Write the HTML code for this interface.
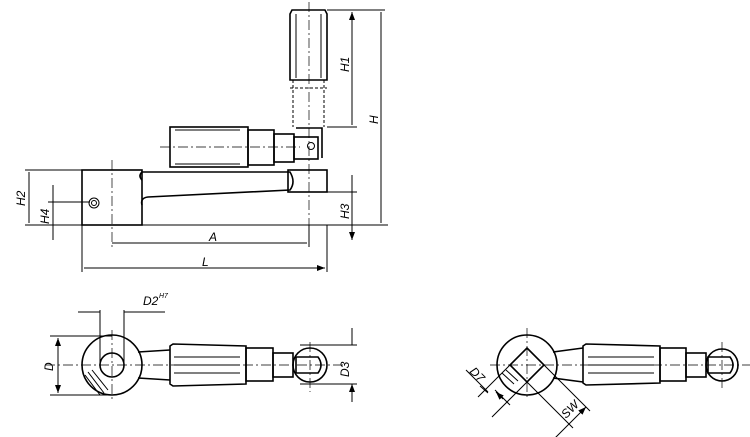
<!DOCTYPE html>
<html><head><style>html,body{margin:0;padding:0;background:#fff}svg{display:block}</style></head><body>
<svg width="750" height="437" viewBox="0 0 750 437" xmlns="http://www.w3.org/2000/svg" font-family="Liberation Sans, sans-serif" font-style="italic" font-size="12">
<defs><marker id="a" markerWidth="8" markerHeight="6" refX="8" refY="3" orient="auto-start-reverse" markerUnits="userSpaceOnUse"><path d="M0,0 L8,3 L0,6z" fill="#000"/></marker></defs>
<g stroke="#000" fill="none" stroke-width="1">
<!-- top view -->
<g stroke-width="1.6">
<path d="M290,14 L292,10 L325,10 L327,14 L327,80 L290,80 Z"/>
<rect x="82" y="170" width="60" height="55"/>
<path d="M142,172 L290,172 Q296,182 290,190 L148,197 Q140,198 142,205"/>
<path d="M142,172 Q138,176 142,180"/>
<rect x="288" y="170" width="39" height="22"/>
<rect x="170" y="127" width="78" height="40"/>
<rect x="248" y="130" width="26" height="35"/>
<rect x="274" y="134" width="20" height="28"/>
<rect x="294" y="137" width="24" height="22"/>
<path d="M296,128 L322,128 L322,158"/>
</g>
<path d="M296,14 V78 M321,14 V78 M175,130 H240 M175,164 H240" stroke-width="1"/>
<path d="M293,80 V127 M324,80 V127 M290,88 H327" stroke-dasharray="3,2"/>
<circle cx="311" cy="146" r="3.5"/>
<circle cx="94" cy="203" r="5"/><circle cx="94" cy="203" r="2.5"/>
<path d="M309,2 V235 M112,160 V250 M160,147 H300" stroke-width="0.7" stroke-dasharray="10,3,2,3"/>
<path d="M327,10 H385 M327,127 H357 M327,192 H357 M25,170 H82 M25,225 H388 M48,202 H90 M82,225 V272 M327,225 V272 M309,225 V247"/>
<path d="M352,12 V125 M381,12 V223 M29,172 V223 M112,243 H307 M84,268 H325" marker-start="url(#a)" marker-end="url(#a)"/>
<path d="M53,185 V202 M53,225 V240 M352,175 V192 M352,225 V240" marker-end="url(#a)"/>
<path d="M53,202 V225 M352,192 V225"/>
<!-- bottom left -->
<g stroke-width="1.6">
<circle cx="112" cy="365" r="30"/><circle cx="112" cy="365" r="12"/>
<path d="M138,352 L170,350 M138,378 L170,380"/>
<path d="M170,346 L173,344 L246,346 L246,384 L173,386 L170,384 Z"/>
<rect x="246" y="348" width="27" height="33"/>
<rect x="273" y="353" width="20" height="24"/>
<circle cx="310" cy="365" r="17"/>
<path d="M296,357 H318 Q324,365 318,373 H296 Z"/>
</g>
<path d="M174,357 H240 M174,365 H240 M174,373 H240"/>
<path d="M85,375 L100,395 M88,372 L104,393 M92,370 L108,390"/>
<path d="M45,365 H345 M112,330 V400 M310,342 V392" stroke-width="0.7" stroke-dasharray="10,3,2,3"/>
<path d="M50,336 H112 M50,395 H112 M100,310 V362 M124,310 V362 M300,345 H357 M300,384 H357"/>
<path d="M58,338 V393" marker-start="url(#a)" marker-end="url(#a)"/>
<path d="M78,312 H100 M165,312 H124 M352,328 V345 M352,402 V384" marker-end="url(#a)"/>
<!-- bottom right -->
<g stroke-width="1.6">
<circle cx="527" cy="365" r="30"/>
<path d="M527,348 L544,365 L527,382 L510,365 Z"/>
<path d="M553,352 L583,348 M553,378 L583,382"/>
<path d="M583,346 L586,344 L660,346 L660,383 L586,385 L583,383 Z"/>
<rect x="660" y="348" width="26" height="33"/>
<rect x="686" y="353" width="20" height="24"/>
<circle cx="722" cy="365" r="16"/>
<path d="M708,357 H730 Q736,365 730,373 H708 Z"/>
</g>
<path d="M588,357 H654 M588,365 H654 M588,373 H654"/>
<path d="M502,373 L514,384 M506,370 L518,381"/>
<path d="M490,365 H750 M527,328 V400 M722,342 V390" stroke-width="0.7" stroke-dasharray="10,3,2,3"/>
<path d="M510,365 L478,397 M527,382 L492,417 M544,365 L590,411 M527,382 L573,428"/>
<path d="M466,370 L488,392 M510,405 L495,390" />
<path d="M480,386 L488,393 M503,399 L496,392" marker-end="url(#a)"/>
<path d="M586,407 L553,440" marker-start="url(#a)"/>
</g>
<g>
<text transform="translate(349,72) rotate(-90)">H1</text>
<text transform="translate(378,124) rotate(-90)">H</text>
<text transform="translate(25,206) rotate(-90)">H2</text>
<text transform="translate(49,224) rotate(-90)">H4</text>
<text transform="translate(349,219) rotate(-90)">H3</text>
<text x="209" y="241">A</text>
<text x="202" y="266">L</text>
<text x="143" y="305">D2</text><text x="159" y="298" font-size="7">H7</text>
<text transform="translate(53,371) rotate(-90)">D</text>
<text transform="translate(349,377) rotate(-90)">D3</text>
<text transform="translate(469,372) rotate(45)">D7</text>
<text transform="translate(566,419) rotate(-45)">SW</text>
</g>
</svg>
</body></html>
